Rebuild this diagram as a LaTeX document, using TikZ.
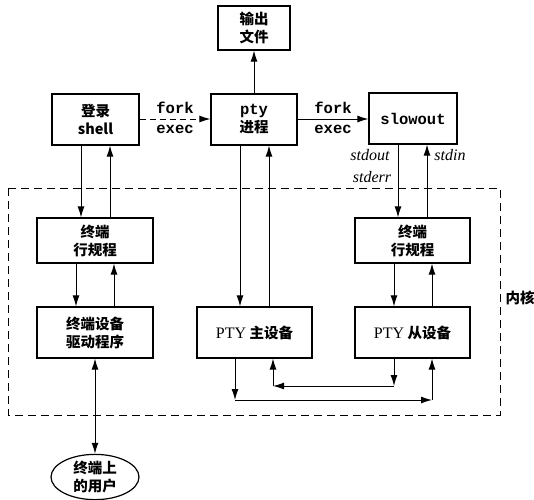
\documentclass[tikz,border=0pt]{standalone}
\usepackage{fontspec}
\setmainfont{Liberation Serif}
\newfontfamily\cjk{Noto Sans CJK SC}
\newfontfamily\mono{Liberation Mono}
\usetikzlibrary{arrows.meta,shapes.geometric}
\tikzset{
  box/.style={draw, line width=1.2pt, inner sep=0pt, align=center,
    minimum width=115pt, minimum height=51pt,
    font=\cjk\bfseries\fontsize{14.5}{18}\selectfont},
  arr/.style={line width=1pt, -{Latex[length=11pt,width=7pt]}},
  lbl/.style={inner sep=0pt, font=\mono\bfseries\fontsize{15.5}{17}\selectfont},
  stream/.style={inner sep=0pt, font=\itshape\fontsize{16}{17}\selectfont},
}
\begin{document}
\begin{tikzpicture}[x=1pt, y=-1pt]
    \useasboundingbox (0,0) rectangle (534,499);

    % Kernel
    \draw[dashed, dash pattern=on 8pt off 5pt, line width=1pt] (8,188) rectangle (500,415);
    \node[inner sep=0pt, font=\cjk\bfseries\fontsize{14.5}{18}\selectfont] (kernel) at (520,298) {内核};

    % Processes
    \node[box, minimum width=72pt, minimum height=44pt] (outfile) at (254,28) {输出\\文件};
    \node[box, minimum width=87pt] (shell) at (95.5,119.5) {登录\\shell};
    \node[box, minimum width=86pt] (pty) at (254,119.5) {\mono\bfseries\fontsize{15.5}{18}\selectfont pty\\进程};
    \node[box, minimum width=88pt] (slowout) at (413,118.5) {\mono\bfseries\fontsize{15.5}{18}\selectfont slowout};

    % Kernel modules
    \node[box, minimum width=116pt, minimum height=45pt] (ldiscL) at (95,240.5) {终端\\行规程};
    \node[box, minimum height=45pt] (ldiscR) at (412.5,240.5) {终端\\行规程};
    \node[box, minimum width=116pt] (driver) at (95,332.5) {终端设备\\驱动程序};
    \node[box] (master) at (254.5,332.5) {{\rmfamily\mdseries\fontsize{16}{18}\selectfont PTY} 主设备};
    \node[box] (slave) at (412.5,332.5) {{\rmfamily\mdseries\fontsize{16}{18}\selectfont PTY} 从设备};

    % User
    \node[draw, ellipse, line width=1.2pt, inner sep=0pt, minimum width=88pt, minimum height=42pt,
      align=center, font=\cjk\bfseries\fontsize{14.5}{18}\selectfont] (user) at (95,477) {终端上\\的用户};

    % fork / exec
    \draw[arr, dashed, dash pattern=on 6pt off 4pt] (shell.east |- 0,119) -- (pty.west |- 0,119);
    \node[lbl] (fork1) at (175,108) {fork};
    \node[lbl] (exec1) at (175,129) {exec};
    \draw[arr] (pty.east |- 0,119) -- (slowout.west |- 0,119);
    \node[lbl] (fork2) at (333,108) {fork};
    \node[lbl] (exec2) at (333,129) {exec};
    \draw[arr] (pty.north) -- (outfile.south);

    % shell <-> line discipline <-> driver
    \draw[arr] ([xshift=-14.5pt]shell.south) -- ([xshift=-14.5pt]shell.south |- ldiscL.north);
    \draw[arr] ([xshift=14.5pt]shell.south |- ldiscL.north) -- ([xshift=14.5pt]shell.south);
    \draw[arr] ([xshift=-19pt]ldiscL.south) -- ([xshift=-19pt]driver.north);
    \draw[arr] ([xshift=19pt]driver.north) -- ([xshift=19pt]ldiscL.south);
    \draw[arr, <->, >={Latex[length=11pt,width=7pt]}] (driver.south) -- (user.north);

    % pty <-> master
    \draw[arr] ([xshift=-14pt]pty.south) -- ([xshift=-14pt]pty.south |- master.north);
    \draw[arr] ([xshift=15pt]pty.south |- master.north) -- ([xshift=15pt]pty.south);

    % slowout <-> line discipline <-> slave
    \draw[arr] ([xshift=-15pt]slowout.south) -- ([xshift=-15pt]slowout.south |- ldiscR.north);
    \draw[arr] ([xshift=14pt]slowout.south |- ldiscR.north) -- ([xshift=14pt]slowout.south);
    \node[stream] (stdout) at (370,155) {stdout};
    \node[stream] (stderr) at (372,177) {stderr};
    \node[stream] (stdin) at (450,155) {stdin};
    \draw[arr] ([xshift=-18.5pt]ldiscR.south) -- ([xshift=-18.5pt]slave.north);
    \draw[arr] ([xshift=19.5pt]slave.north) -- ([xshift=19.5pt]ldiscR.south);

    % master <-> slave
    \coordinate (m1) at ([xshift=-19.5pt]master.south |- 0,400);
    \coordinate (m2) at ([xshift=19.5pt]slave.south |- 0,400);
    \draw[arr] ([xshift=-19.5pt]master.south) -- (m1);
    \draw[arr] (m1) -- (m2);
    \draw[arr] (m2) -- ([xshift=19.5pt]slave.south);
    \coordinate (s1) at ([xshift=-18.5pt]slave.south |- 0,386);
    \coordinate (s2) at ([xshift=18.5pt]master.south |- 0,386);
    \draw[arr] ([xshift=-18.5pt]slave.south) -- (s1);
    \draw[arr] (s1) -- (s2);
    \draw[arr] (s2) -- ([xshift=18.5pt]master.south);

\end{tikzpicture}
\end{document}
